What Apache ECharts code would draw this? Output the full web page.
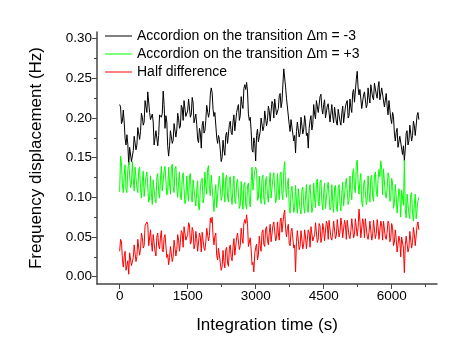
<!DOCTYPE html>
<html>
<head>
<meta charset="utf-8">
<script src="https://cdn.jsdelivr.net/npm/echarts@6/dist/echarts.min.js"></script>
<style>
html, body { margin: 0; padding: 0; background: #fff; }
#chart { width: 463px; height: 360px; }
</style>
</head>
<body>
<div id="chart"></div>
<script>
// samples every 20 s, 0 .. 6600 s (one row = 400 s)
var timeStep = 20;

// Accordion on the transition dm = -3 (Hz)
var accMinus = [
    0.217, 0.214, 0.193, 0.196, 0.210, 0.195, 0.174, 0.166, 0.179, 0.167, 0.141, 0.163, 0.161, 0.145, 0.146, 0.159, 0.177, 0.179, 0.160, 0.166,
    0.188, 0.189, 0.173, 0.183, 0.206, 0.201, 0.191, 0.195, 0.222, 0.221, 0.207, 0.233, 0.235, 0.207, 0.198, 0.198, 0.205, 0.195, 0.166, 0.167,
    0.184, 0.183, 0.165, 0.178, 0.204, 0.205, 0.201, 0.206, 0.234, 0.217, 0.187, 0.203, 0.195, 0.164, 0.152, 0.165, 0.184, 0.186, 0.168, 0.172,
    0.193, 0.193, 0.176, 0.185, 0.206, 0.199, 0.187, 0.190, 0.216, 0.213, 0.197, 0.222, 0.223, 0.202, 0.200, 0.209, 0.224, 0.222, 0.201, 0.205,
    0.226, 0.219, 0.194, 0.193, 0.205, 0.192, 0.173, 0.169, 0.187, 0.181, 0.162, 0.191, 0.196, 0.181, 0.184, 0.197, 0.216, 0.218, 0.201, 0.207,
    0.230, 0.238, 0.232, 0.211, 0.202, 0.207, 0.206, 0.176, 0.168, 0.178, 0.173, 0.171, 0.145, 0.150, 0.172, 0.160, 0.153, 0.178, 0.182, 0.168,
    0.169, 0.192, 0.196, 0.182, 0.179, 0.195, 0.204, 0.184, 0.186, 0.207, 0.213, 0.217, 0.197, 0.203, 0.227, 0.217, 0.212, 0.237, 0.242, 0.236,
    0.245, 0.234, 0.205, 0.197, 0.201, 0.184, 0.160, 0.157, 0.175, 0.168, 0.146, 0.178, 0.186, 0.170, 0.172, 0.183, 0.200, 0.202, 0.184, 0.189,
    0.209, 0.209, 0.190, 0.197, 0.215, 0.209, 0.196, 0.198, 0.221, 0.218, 0.200, 0.224, 0.223, 0.204, 0.202, 0.212, 0.228, 0.231, 0.213, 0.220,
    0.242, 0.262, 0.264, 0.239, 0.225, 0.227, 0.223, 0.192, 0.183, 0.198, 0.198, 0.197, 0.171, 0.178, 0.156, 0.183, 0.195, 0.196, 0.176, 0.181,
    0.201, 0.200, 0.180, 0.186, 0.203, 0.194, 0.178, 0.181, 0.162, 0.187, 0.197, 0.203, 0.185, 0.192, 0.217, 0.205, 0.199, 0.222, 0.224, 0.207,
    0.206, 0.227, 0.230, 0.212, 0.205, 0.217, 0.223, 0.200, 0.198, 0.215, 0.218, 0.219, 0.195, 0.197, 0.217, 0.203, 0.194, 0.214, 0.214, 0.195,
    0.191, 0.211, 0.212, 0.196, 0.191, 0.206, 0.215, 0.194, 0.194, 0.214, 0.219, 0.222, 0.200, 0.203, 0.224, 0.213, 0.207, 0.232, 0.236, 0.220,
    0.220, 0.249, 0.259, 0.238, 0.229, 0.236, 0.236, 0.212, 0.210, 0.229, 0.233, 0.235, 0.213, 0.217, 0.238, 0.226, 0.219, 0.242, 0.244, 0.226,
    0.223, 0.244, 0.246, 0.230, 0.225, 0.239, 0.246, 0.223, 0.221, 0.238, 0.240, 0.239, 0.214, 0.214, 0.231, 0.215, 0.204, 0.222, 0.220, 0.199,
    0.193, 0.207, 0.202, 0.181, 0.171, 0.182, 0.187, 0.163, 0.161, 0.177, 0.179, 0.179, 0.154, 0.165, 0.146, 0.161, 0.181, 0.184, 0.166, 0.171,
    0.191, 0.190, 0.171, 0.178, 0.196, 0.190, 0.178, 0.180, 0.203, 0.207, 0.198
];

// Accordion on the transition dm = +3 (Hz)
var accPlus = [
    0.107, 0.152, 0.143, 0.117, 0.106, 0.128, 0.141, 0.109, 0.106, 0.135, 0.144, 0.145, 0.112, 0.116, 0.145, 0.123, 0.108, 0.138, 0.139, 0.112,
    0.106, 0.135, 0.138, 0.111, 0.099, 0.120, 0.133, 0.101, 0.099, 0.126, 0.132, 0.130, 0.094, 0.098, 0.127, 0.105, 0.091, 0.122, 0.124, 0.098,
    0.093, 0.125, 0.130, 0.107, 0.099, 0.123, 0.139, 0.108, 0.106, 0.133, 0.139, 0.138, 0.103, 0.108, 0.138, 0.117, 0.104, 0.137, 0.142, 0.113,
    0.106, 0.136, 0.139, 0.112, 0.100, 0.120, 0.132, 0.100, 0.097, 0.124, 0.131, 0.129, 0.092, 0.097, 0.127, 0.107, 0.095, 0.127, 0.130, 0.101,
    0.094, 0.122, 0.124, 0.099, 0.089, 0.109, 0.121, 0.088, 0.084, 0.113, 0.121, 0.124, 0.093, 0.100, 0.132, 0.114, 0.104, 0.136, 0.140, 0.110,
    0.102, 0.128, 0.128, 0.097, 0.082, 0.103, 0.116, 0.087, 0.087, 0.117, 0.127, 0.129, 0.096, 0.101, 0.131, 0.109, 0.094, 0.125, 0.128, 0.100,
    0.094, 0.123, 0.126, 0.101, 0.091, 0.113, 0.127, 0.095, 0.092, 0.118, 0.123, 0.122, 0.086, 0.090, 0.120, 0.099, 0.085, 0.116, 0.119, 0.091,
    0.085, 0.115, 0.118, 0.095, 0.088, 0.117, 0.138, 0.109, 0.110, 0.134, 0.138, 0.134, 0.096, 0.099, 0.127, 0.106, 0.092, 0.124, 0.128, 0.099,
    0.091, 0.122, 0.126, 0.102, 0.094, 0.117, 0.131, 0.099, 0.097, 0.124, 0.131, 0.129, 0.093, 0.099, 0.130, 0.110, 0.097, 0.129, 0.132, 0.104,
    0.097, 0.134, 0.145, 0.115, 0.100, 0.116, 0.124, 0.087, 0.080, 0.107, 0.114, 0.115, 0.081, 0.085, 0.115, 0.094, 0.080, 0.111, 0.113, 0.085,
    0.079, 0.109, 0.113, 0.089, 0.080, 0.102, 0.116, 0.084, 0.081, 0.109, 0.116, 0.116, 0.081, 0.087, 0.118, 0.099, 0.087, 0.119, 0.123, 0.095,
    0.089, 0.119, 0.122, 0.095, 0.084, 0.105, 0.118, 0.086, 0.084, 0.112, 0.119, 0.119, 0.084, 0.087, 0.116, 0.095, 0.081, 0.112, 0.115, 0.088,
    0.082, 0.112, 0.116, 0.092, 0.083, 0.105, 0.119, 0.089, 0.088, 0.116, 0.124, 0.125, 0.091, 0.096, 0.127, 0.108, 0.097, 0.131, 0.136, 0.110,
    0.106, 0.140, 0.147, 0.118, 0.104, 0.121, 0.130, 0.094, 0.088, 0.115, 0.122, 0.124, 0.091, 0.096, 0.127, 0.107, 0.094, 0.125, 0.128, 0.101,
    0.095, 0.127, 0.132, 0.109, 0.101, 0.122, 0.135, 0.126, 0.146, 0.135, 0.103, 0.136, 0.135, 0.104, 0.099, 0.111, 0.131, 0.127, 0.095, 0.099,
    0.124, 0.118, 0.086, 0.093, 0.116, 0.102, 0.080, 0.081, 0.111, 0.103, 0.075, 0.109, 0.108, 0.090, 0.147, 0.085, 0.074, 0.104, 0.106, 0.079,
    0.073, 0.103, 0.106, 0.080, 0.070, 0.091, 0.104, 0.073, 0.071, 0.096, 0.100
];

// Half difference (Hz)
var halfDiff = [
    0.032, 0.047, 0.044, 0.022, 0.012, 0.025, 0.032, 0.008, 0.006, 0.020, 0.003, 0.030, 0.032, 0.014, 0.013, 0.024, 0.040, 0.040, 0.019, 0.025,
    0.047, 0.046, 0.027, 0.035, 0.055, 0.049, 0.036, 0.039, 0.064, 0.062, 0.069, 0.066, 0.039, 0.040, 0.059, 0.043, 0.032, 0.053, 0.053, 0.032,
    0.026, 0.050, 0.055, 0.039, 0.035, 0.050, 0.058, 0.034, 0.031, 0.049, 0.053, 0.051, 0.024, 0.028, 0.015, 0.024, 0.038, 0.039, 0.019, 0.025,
    0.046, 0.045, 0.026, 0.034, 0.053, 0.046, 0.032, 0.034, 0.058, 0.055, 0.037, 0.063, 0.065, 0.046, 0.044, 0.053, 0.068, 0.065, 0.041, 0.044,
    0.062, 0.058, 0.035, 0.040, 0.057, 0.048, 0.032, 0.033, 0.055, 0.050, 0.031, 0.056, 0.056, 0.036, 0.033, 0.044, 0.061, 0.063, 0.045, 0.052,
    0.074, 0.068, 0.075, 0.052, 0.040, 0.051, 0.055, 0.027, 0.021, 0.036, 0.036, 0.034, 0.008, 0.012, 0.033, 0.019, 0.011, 0.034, 0.037, 0.017,
    0.013, 0.036, 0.040, 0.024, 0.020, 0.037, 0.048, 0.027, 0.028, 0.049, 0.055, 0.057, 0.034, 0.039, 0.061, 0.049, 0.042, 0.067, 0.072, 0.067,
    0.078, 0.067, 0.038, 0.038, 0.049, 0.035, 0.015, 0.018, 0.006, 0.029, 0.037, 0.041, 0.021, 0.027, 0.051, 0.039, 0.032, 0.056, 0.059, 0.041,
    0.038, 0.060, 0.063, 0.046, 0.040, 0.056, 0.066, 0.044, 0.044, 0.064, 0.069, 0.069, 0.045, 0.048, 0.069, 0.055, 0.046, 0.070, 0.074, 0.056,
    0.054, 0.078, 0.084, 0.061, 0.050, 0.061, 0.066, 0.042, 0.039, 0.057, 0.061, 0.061, 0.036, 0.040, 0.006, 0.044, 0.058, 0.056, 0.034, 0.038,
    0.058, 0.056, 0.035, 0.041, 0.059, 0.050, 0.035, 0.036, 0.059, 0.055, 0.037, 0.063, 0.064, 0.045, 0.043, 0.053, 0.068, 0.066, 0.043, 0.047,
    0.067, 0.064, 0.043, 0.049, 0.067, 0.059, 0.045, 0.047, 0.070, 0.066, 0.047, 0.071, 0.070, 0.049, 0.046, 0.055, 0.070, 0.069, 0.048, 0.052,
    0.072, 0.070, 0.050, 0.056, 0.074, 0.065, 0.049, 0.049, 0.071, 0.066, 0.047, 0.071, 0.071, 0.051, 0.048, 0.058, 0.073, 0.071, 0.049, 0.053,
    0.073, 0.071, 0.051, 0.062, 0.085, 0.070, 0.049, 0.050, 0.073, 0.068, 0.049, 0.073, 0.073, 0.051, 0.047, 0.056, 0.070, 0.068, 0.046, 0.051,
    0.071, 0.069, 0.048, 0.054, 0.072, 0.063, 0.047, 0.048, 0.070, 0.065, 0.046, 0.070, 0.070, 0.050, 0.047, 0.056, 0.070, 0.067, 0.044, 0.048,
    0.067, 0.062, 0.039, 0.043, 0.059, 0.048, 0.031, 0.030, 0.051, 0.045, 0.025, 0.050, 0.050, 0.036, 0.005, 0.040, 0.051, 0.051, 0.031, 0.036,
    0.057, 0.056, 0.036, 0.043, 0.062, 0.054, 0.039, 0.041, 0.064, 0.069, 0.059
];

var xMajor = [0, 1500, 3000, 4500, 6000];
var xMinor = [750, 2250, 3750, 5250, 6750];
var yMajor = [0, 0.05, 0.10, 0.15, 0.20, 0.25, 0.30];
var yMinor = [0.025, 0.075, 0.125, 0.175, 0.225, 0.275];

var names = [
    'Accordion on the transition \u0394m = -3',
    'Accordion on the transition \u0394m = +3',
    'Half difference'
];

function toPairs(values) {
    var out = [];
    for (var i = 0; i < values.length; i++) {
        out.push([i * timeStep, values[i]]);
    }
    return out;
}

var font = 'Liberation Sans, Arial, sans-serif';
var axisColor = '#444';

var chart = echarts.init(document.getElementById('chart'));
var option = {
    animation: false,
    backgroundColor: '#fff',
    textStyle: { fontFamily: font },
    grid: { left: 97, right: 26, top: 32, bottom: 76 },
    legend: {
        orient: 'vertical',
        left: 100,
        top: 24,
        itemWidth: 27,
        itemHeight: 14,
        itemGap: 4,
        icon: 'path://M0,0H27V1H0Z',
        textStyle: { fontFamily: font, fontSize: 14, color: '#000' },
        data: names
    },
    xAxis: [{
        type: 'value',
        min: -500,
        max: 7000,
        name: 'Integration time (s)',
        nameLocation: 'middle',
        nameGap: 33,
        nameTextStyle: { fontFamily: font, fontSize: 17, color: '#000' },
        axisLine: { onZero: false, lineStyle: { color: axisColor, width: 1.5 } },
        axisTick: { customValues: xMajor, length: 5, lineStyle: { color: axisColor } },
        axisLabel: {
            customValues: xMajor,
            fontSize: 13.5,
            color: '#000',
            margin: 5,
            formatter: function(v) { return String(v); }
        },
        splitLine: { show: false }
    }, {
        type: 'value',
        min: -500,
        max: 7000,
        position: 'bottom',
        axisLine: { show: false, onZero: false },
        axisTick: { customValues: xMinor, length: 3, lineStyle: { color: axisColor } },
        axisLabel: { show: false },
        splitLine: { show: false }
    }],
    yAxis: [{
        type: 'value',
        min: -0.0093,
        max: 0.3085,
        name: 'Frequency displacement (Hz)',
        nameLocation: 'middle',
        nameGap: 52,
        nameTextStyle: { fontFamily: font, fontSize: 17, color: '#000' },
        axisLine: { show: true, onZero: false, lineStyle: { color: axisColor, width: 1.5 } },
        axisTick: { show: true, customValues: yMajor, length: 5, lineStyle: { color: axisColor } },
        axisLabel: {
            customValues: yMajor,
            fontSize: 13.5,
            color: '#000',
            margin: 5,
            formatter: function(v) { return v.toFixed(2); }
        },
        splitLine: { show: false }
    }, {
        type: 'value',
        min: -0.0093,
        max: 0.3085,
        position: 'left',
        axisLine: { show: false, onZero: false },
        axisTick: { show: true, customValues: yMinor, length: 3, lineStyle: { color: axisColor } },
        axisLabel: { show: false },
        splitLine: { show: false }
    }],
    series: [{
        name: names[0],
        type: 'line',
        symbol: 'none',
        color: '#000000',
        lineStyle: { width: 1 },
        data: toPairs(accMinus)
    }, {
        name: names[1],
        type: 'line',
        symbol: 'none',
        color: '#00ff00',
        lineStyle: { width: 1 },
        data: toPairs(accPlus)
    }, {
        name: names[2],
        type: 'line',
        symbol: 'none',
        color: '#ff0000',
        lineStyle: { width: 1 },
        data: toPairs(halfDiff)
    }]
};
chart.setOption(option);
</script>
</body>
</html>
